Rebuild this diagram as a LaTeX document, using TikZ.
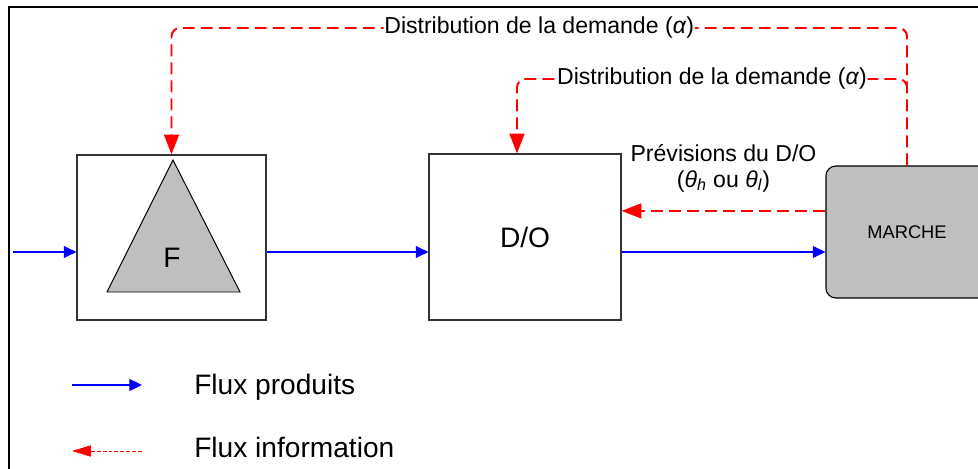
\documentclass[tikz,border=0pt]{standalone}
\usepackage{fontspec}
\setmainfont{Liberation Sans}
\usetikzlibrary{arrows.meta}

\begin{document}
\begin{tikzpicture}[x=0.025cm, y=0.025cm,
  box/.style={draw=black!80, line width=0.8pt},
  market/.style={draw=black, line width=0.8pt, fill=gray!50, rounded corners=7pt,
    minimum width=4.05cm, minimum height=3.3cm, font=\fontsize{13}{15}\selectfont},
  tri/.style={draw=black, line width=0.7pt, fill=gray!50},
  prod/.style={draw=blue, line width=0.8pt, -{Triangle[length=9pt,width=8.5pt]}},
  info/.style={draw=red, line width=1.4pt, dash pattern=on 8.5pt off 4.3pt,
    rounded corners=6pt, -{Triangle[length=14pt,width=10.5pt]}},
  infoleg/.style={draw=red, line width=0.6pt, dash pattern=on 2.8pt off 1.4pt,
    -{Triangle[length=13.5pt,width=8pt]}},
  lbl/.style={fill=white, inner sep=0.5pt, font=\fontsize{16.4}{18.5}\selectfont},
  lbltxt/.style={align=center, font=\fontsize{16.4}{18.5}\selectfont},
  bigtxt/.style={font=\fontsize{20}{24}\selectfont}]

  \useasboundingbox (0,0) rectangle (978,468);
  \clip (0,0) rectangle (978,468);
  \draw[line width=1.5pt] (9,-20) rectangle (1000,461);

  \coordinate (top) at (0,440);
  \coordinate (mid) at (0,389);
  \coordinate (dcol) at (517,0);
  \coordinate (in) at (13,216);

  \node[box, minimum width=4.725cm, minimum height=4.125cm] (F) at (171.5,230.5) {};
  \coordinate (T1) at (173,308);
  \coordinate (T2) at (107,176);
  \coordinate (T3) at (240,176);
  \draw[tri] (T1) -- (T2) -- (T3) -- cycle;
  \node[bigtxt] (Fl) at (172,210) {F};

  \node[box, bigtxt, minimum width=4.8cm, minimum height=4.15cm] (DO) at (525,231) {D/O};
  \node[market] (M) at (907,236) {MARCHE};

  \draw[prod] (in) -- (in -| F.west);
  \draw[prod] (F.east |- in) -- (DO.west |- in);
  \draw[prod] (DO.east |- in) -- (M.west |- in);

  \draw[info] (M.north) -- (M.north |- top)
    -- node[lbl] {Distribution de la demande (\textit{α})} (F.north |- top) -- (F.north);

  \path (M.north |- mid) ++(0,-11) coordinate (split);
  \draw[info] (split) -- (M.north |- mid)
    -- node[lbl] {Distribution de la demande (\textit{α})} (dcol |- mid) -- (dcol |- DO.north);

  \draw[info] ([yshift=15pt]M.west) -- node[lbltxt, above=9.5pt]
    {Prévisions du D/O\\(\textit{θ}\textsubscript{\textit{h}} ou \textit{θ}\textsubscript{\textit{l}})}
    ([yshift=15pt]M.west -| DO.east);

  \coordinate (p1) at (72,83);
  \coordinate (p2) at (142,83);
  \coordinate (i1) at (142,17);
  \coordinate (i2) at (72,17);
  \draw[prod] (p1) -- (p2);
  \draw[infoleg] (i1) -- (i2);
  \node[bigtxt, anchor=base west, inner sep=0pt] (lp) at (194,74) {Flux produits};
  \node[bigtxt, anchor=base west, inner sep=0pt] (li) at (194,11) {Flux information};

\end{tikzpicture}
\end{document}
